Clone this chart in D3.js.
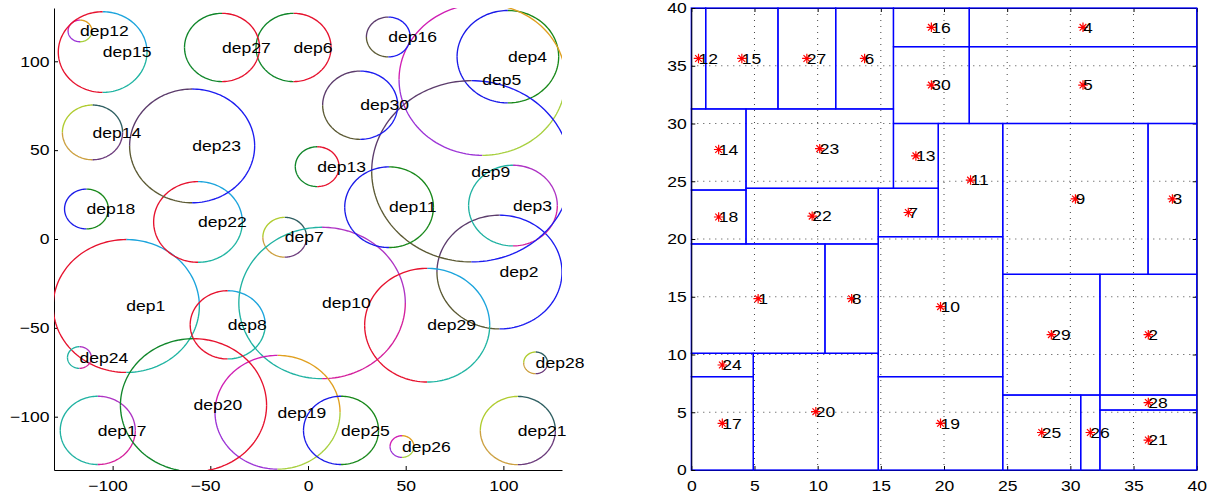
<!DOCTYPE html>
<html>
<head>
<meta charset="utf-8">
<script src="https://cdn.jsdelivr.net/npm/d3@7"></script>
<style>
  body { margin: 0; background: #fff; }
  svg { display: block; }
  text { font-family: "Liberation Sans", Arial, Helvetica, sans-serif; }
</style>
</head>
<body>
<svg id="chart" width="1213" height="495"></svg>
<script>
// ---- departments ----
const depNames = ["dep1","dep2","dep3","dep4","dep5","dep6","dep7","dep8","dep9","dep10",
  "dep11","dep12","dep13","dep14","dep15","dep16","dep17","dep18","dep19","dep20",
  "dep21","dep22","dep23","dep24","dep25","dep26","dep27","dep28","dep29","dep30"];

// circle layout: centres and radii
const circleX = [-93.0, 98.0, 104.9, 102.3, 89.2, -7.4, -11.9, -41.1, 83.6, 7.2,
  41.5, -116.7, 4.7, -110.3, -105.1, 41.1, -107.6, -113.4, -15.6, -58.6,
  107.4, -56.3, -59.3, -117.0, 16.9, 48.1, -44.0, 116.5, 61.0, 26.7];
const circleY = [-37.7, -18.6, 18.8, 102.6, 89.7, 107.8, 1.0, -48.3, 38.1, -36.0,
  17.9, 117.1, 40.7, 60.0, 105.2, 113.7, -107.7, 16.9, -97.5, -93.5,
  -107.8, 9.6, 52.4, -66.7, -107.7, -116.8, 107.8, -69.7, -48.5, 75.3];
const circleR = [37.4, 32, 22.7, 26, 42.6, 19.2, 11.2, 19.2, 51, 42.6,
  22.7, 6.1, 11.2, 15.4, 22.7, 11.2, 19.2, 11.2, 32, 37.4,
  19.2, 22.7, 32, 6.1, 19.2, 6.1, 19.2, 6.1, 32, 19.2];
const circleScheme = ["A","E","G","F","C","B","D","A","E","G",
  "F","C","B","D","A","E","G","F","C","B",
  "D","A","E","G","F","C","B","D","A","E"];

// treemap cells: x0, x1, y0, y1
const cellX0 = [0, 32.34, 36.15, 22, 22, 11.43, 14.8, 10.58, 24.65, 14.8,
  19.55, 0, 16, 0, 1.14, 16, 0, 0, 14.8, 4.91,
  32.34, 4.33, 4.33, 0, 24.65, 30.82, 6.86, 32.34, 24.65, 16];
const cellX1 = [10.58, 40, 40, 40, 40, 16, 19.55, 14.8, 36.15, 24.65,
  24.65, 1.14, 19.55, 4.33, 6.86, 22, 4.91, 4.33, 24.65, 14.8,
  40, 14.8, 16, 4.91, 30.82, 32.34, 11.43, 40, 32.34, 22];
const cellY0 = [10.1, 6.49, 16.94, 36.65, 30, 31.26, 20.2, 10.1, 16.94, 8.08,
  20.2, 31.26, 24.39, 24.24, 31.26, 36.65, 0, 19.57, 0, 0,
  0, 19.57, 24.39, 8.08, 0, 0, 31.26, 5.19, 6.49, 30];
const cellY1 = [19.57, 16.94, 30, 40, 36.65, 40, 24.39, 19.57, 30, 20.2,
  30, 40, 30, 31.26, 40, 40, 8.08, 24.24, 8.08, 10.1,
  5.19, 24.39, 31.26, 10.1, 6.49, 6.49, 40, 6.49, 16.94, 36.65];

// tick labels
const leftTicks = [-100, -50, 0, 50, 100];
const rightTicks = [0, 5, 10, 15, 20, 25, 30, 35, 40];

// quadrant colours: [upper-right, upper-left, lower-left, lower-right]
const schemes = {
  A: ["#1ba4dc", "#e6122e", "#e6122e", "#1fb4a2"],
  B: ["#e6122e", "#10862a", "#10862a", "#e6122e"],
  C: ["#e0a020", "#d020b4", "#9c34d6", "#a8d040"],
  D: ["#2f5f62", "#b0cc30", "#cca040", "#6c3c7c"],
  E: ["#1c1cf0", "#5c3c6c", "#5c5a34", "#1c1cf0"],
  F: ["#18881a", "#1a1ae8", "#1a1ae8", "#18881a"],
  G: ["#ae34c4", "#20b2a2", "#20b2a2", "#d4209c"]
};

const FS = 15, SX = 1.17;
const svg = d3.select("#chart");

// ================= left: circles =================
const xL = d3.scaleLinear().domain([-130, 130]).range([54, 562]);
const yL = d3.scaleLinear().domain([-130, 130]).range([470, 8]);

svg.append("defs").append("clipPath").attr("id", "clipL")
  .append("rect").attr("x", 54).attr("y", 8).attr("width", 508).attr("height", 462);

const left = svg.append("g");

function styleAxis(g) {
  g.select(".domain").attr("stroke", "#000").attr("stroke-width", 1);
  g.selectAll(".tick line").attr("stroke", "#000");
  g.selectAll(".tick text").attr("fill", "#000").style("font-size", FS + "px")
    .attr("transform", `scale(${SX},1)`);
}

const minusProbe = svg.append("text").style("font-size", FS + "px").text("\u2212");
const minusW = minusProbe.node().getComputedTextLength();
minusProbe.remove();

const axL_b = left.append("g").attr("transform", "translate(0,470)")
  .call(d3.axisBottom(xL).tickValues(leftTicks).tickSizeInner(-4).tickSizeOuter(0).tickPadding(10));
styleAxis(axL_b);
axL_b.selectAll(".tick text").filter(d => d < 0).attr("x", -minusW / 2);

const axL_l = left.append("g").attr("transform", "translate(54,0)")
  .call(d3.axisLeft(yL).tickValues(leftTicks).tickSizeInner(-4).tickSizeOuter(0).tickPadding(3.9));
styleAxis(axL_l);

const arcLine = d3.line().x(d => d[0]).y(d => d[1]);
const circles = left.append("g").attr("clip-path", "url(#clipL)");
depNames.forEach((name, i) => {
  const cols = schemes[circleScheme[i]];
  for (let q = 0; q < 4; q++) {
    const pts = d3.range(0, 41).map(k => {
      const a = (q * 90 + k * 90 / 40) * Math.PI / 180;
      return [xL(circleX[i] + circleR[i] * Math.cos(a)), yL(circleY[i] + circleR[i] * Math.sin(a))];
    });
    circles.append("path").attr("d", arcLine(pts)).attr("fill", "none")
      .attr("stroke", cols[q]).attr("stroke-width", 1.35);
  }
});
left.append("g").selectAll("text").data(depNames).join("text")
  .attr("transform", (d, i) => `translate(${xL(circleX[i])},${yL(circleY[i])}) scale(${SX},1)`)
  .attr("dy", "0.35em").style("font-size", FS + "px").attr("fill", "#000")
  .text(d => d);

// ================= right: treemap =================
const xR = d3.scaleLinear().domain([0, 40]).range([691.3, 1196.7]);
const yR = d3.scaleLinear().domain([0, 40]).range([470, 8]);
const right = svg.append("g");

// dotted grid
const inner = rightTicks.slice(1, -1);
right.append("g").selectAll("line").data(inner).join("line")
  .attr("x1", d => xR(d)).attr("x2", d => xR(d)).attr("y1", yR(40)).attr("y2", yR(0))
  .attr("stroke", "#444").attr("stroke-dasharray", "1,5");
right.append("g").selectAll("line").data(inner).join("line")
  .attr("y1", d => yR(d)).attr("y2", d => yR(d)).attr("x1", xR(0)).attr("x2", xR(40))
  .attr("stroke", "#444").attr("stroke-dasharray", "1,5");

const axR_b = right.append("g").attr("transform", "translate(0,470)")
  .call(d3.axisBottom(xR).tickValues(rightTicks).tickSizeInner(-4).tickSizeOuter(0).tickPadding(10));
styleAxis(axR_b);
const axR_t = right.append("g").attr("transform", "translate(0,8)")
  .call(d3.axisTop(xR).tickValues(rightTicks).tickSizeInner(-4).tickSizeOuter(0).tickFormat(""));
styleAxis(axR_t);
const axR_r = right.append("g").attr("transform", "translate(1196.7,0)")
  .call(d3.axisRight(yR).tickValues(rightTicks).tickSizeInner(-4).tickSizeOuter(0).tickFormat(""));
styleAxis(axR_r);

// cells
right.append("g").selectAll("rect").data(depNames).join("rect")
  .attr("x", (d, i) => xR(cellX0[i]))
  .attr("y", (d, i) => yR(cellY1[i]))
  .attr("width", (d, i) => xR(cellX1[i]) - xR(cellX0[i]))
  .attr("height", (d, i) => yR(cellY0[i]) - yR(cellY1[i]))
  .attr("fill", "none").attr("stroke", "#0000ff").attr("stroke-width", 1.3);

const axR_l = right.append("g").attr("transform", "translate(691.3,0)")
  .call(d3.axisLeft(yR).tickValues(rightTicks).tickSizeInner(-4).tickSizeOuter(0).tickPadding(3.9));
styleAxis(axR_l);

// asterisk markers at cell centres
const asterisk = {
  draw(ctx, size) {
    const r = Math.sqrt(size) / 2, d = r * Math.SQRT1_2;
    ctx.moveTo(-r, 0); ctx.lineTo(r, 0);
    ctx.moveTo(0, -r); ctx.lineTo(0, r);
    ctx.moveTo(-d, -d); ctx.lineTo(d, d);
    ctx.moveTo(-d, d); ctx.lineTo(d, -d);
  }
};
const cx = i => xR((cellX0[i] + cellX1[i]) / 2);
const cy = i => yR((cellY0[i] + cellY1[i]) / 2);
right.append("g").selectAll("path").data(depNames).join("path")
  .attr("transform", (d, i) => `translate(${cx(i)},${cy(i)})`)
  .attr("d", d3.symbol().type(asterisk).size(90))
  .attr("fill", "none").attr("stroke", "#ff0000").attr("stroke-width", 1.2);
right.append("g").selectAll("text").data(depNames).join("text")
  .attr("transform", (d, i) => `translate(${cx(i)},${cy(i)}) scale(${SX},1)`)
  .attr("dy", "0.35em").style("font-size", FS + "px").attr("fill", "#000")
  .text(d => d.replace("dep", ""));
</script>
</body>
</html>
